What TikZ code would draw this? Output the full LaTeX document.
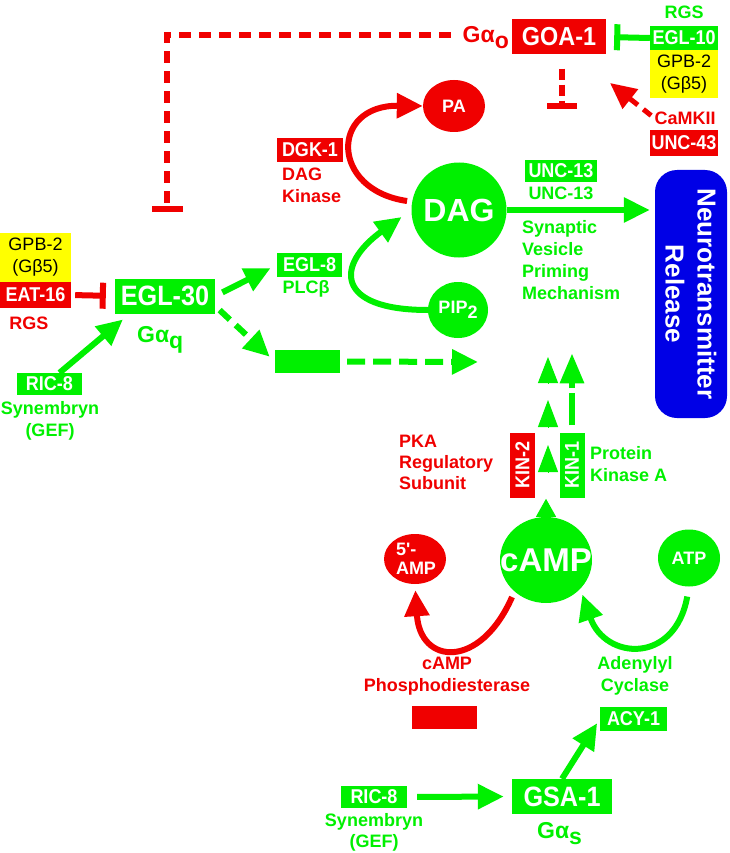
\documentclass[tikz,border=0pt]{standalone}
\usepackage{fontspec}
\setmainfont{Liberation Sans}
\newfontfamily\boxfont{Liberation Sans}[FakeStretch=0.9]
\usetikzlibrary{arrows.meta,shapes.geometric}
\definecolor{grn}{RGB}{0,240,0}
\definecolor{rd}{RGB}{240,0,0}
\definecolor{blu}{RGB}{0,0,230}
\definecolor{ylw}{RGB}{255,255,0}

\begin{document}
\begin{tikzpicture}[x=1pt, y=-1pt,
        lbl/.style={font=\bfseries\fontsize{18}{22}\selectfont, inner sep=0pt},
        gtxt/.style={lbl, text=grn},
        rtxt/.style={lbl, text=rd},
        galpha/.style={inner sep=0pt, anchor=base west, font=\bfseries\fontsize{23}{23}\selectfont},
        gbox/.style={fill=grn, text=white, inner sep=0pt, minimum width=66pt, minimum height=24pt,
            font=\boxfont\bfseries\fontsize{20}{20}\selectfont},
        rbox/.style={gbox, fill=rd},
        bigbox/.style={minimum width=100pt, minimum height=35pt, font=\boxfont\bfseries\fontsize{28}{28}\selectfont},
        ybox/.style={fill=ylw, text=black, inner sep=0pt, minimum width=68pt, minimum height=48pt,
            align=center, font=\fontsize{18}{22}\selectfont},
        blob/.style={ellipse, inner sep=0pt, text=white, font=\bfseries\fontsize{18}{20}\selectfont},
        arr/.style={line width=6pt, -{Triangle[length=26pt,width=24pt]}},
        darr/.style={arr, dash pattern=on 14pt off 8pt},
        tri/.style={grn, line width=1pt, -{Triangle[length=#1,width=20pt]}},
        inh/.style={line width=6pt, -{Bar[width=#1]}}
    ]
            \useasboundingbox (0,0) rectangle (729,853);

            \node[rbox, bigbox, minimum width=94pt, font=\boxfont\bfseries\fontsize{26}{26}\selectfont] (goa) at (559,37) {GOA-1};
            \node[galpha, text=rd, anchor=base east] (goalbl) at (509,43) {Gα\raisebox{-6pt}{o}};
            \node[gtxt] (rgstop) at (684,12) {RGS};
            \node[gbox, minimum width=68pt] (egl10) at (684,38) {EGL-10};
            \node[ybox] (gpbtop) at (684,74) {GPB-2\\(Gβ5)};
            \node[rtxt] (camk) at (685,118) {CaMKII};
            \node[rbox, minimum width=68pt, minimum height=26pt] (unc43) at (684,143) {UNC-43};
            \coordinate (camkend) at (610,83);

            \node[blob, fill=rd, minimum width=62pt, minimum height=52pt] (pa) at (454,106) {\makebox[0pt]{PA}};
            \node[rbox] (dgk) at (310,150) {DGK-1};
            \node[rtxt, anchor=west, align=left] (dgklbl) at (282,185) {DAG\\Kinase};
            \node[blob, fill=grn, minimum size=95pt, font=\bfseries\fontsize{32}{32}\selectfont] (dag) at (459,210) {\makebox[0pt]{DAG}};
            \node[blob, fill=grn, minimum width=60pt, minimum height=56pt] (pip) at (458,310) {\makebox[0pt]{PIP\raisebox{-5pt}{2}}};
            \node[gbox, minimum width=72pt, minimum height=22pt] (unc13) at (561,171) {UNC-13};
            \node[gtxt] (unc13lbl) at (561,193) {UNC-13};
            \node[gtxt, anchor=west, align=left] (svpm) at (522,260) {Synaptic\\Vesicle\\Priming\\Mechanism};
            \node[fill=blu, text=white, rounded corners=22pt, rotate=-90, minimum width=248pt, minimum height=72pt,
                align=center, font=\bfseries\fontsize{26}{32}\selectfont] (ntr) at (691,294) {Neurotransmitter\\Release};

            \node[ybox, minimum width=71pt, minimum height=49pt] (gpbleft) at (35.5,257.5) {GPB-2\\(Gβ5)};
            \node[rbox, minimum width=71pt, minimum height=26pt] (eat16) at (35.5,295) {EAT-16};
            \node[rtxt] (rgsleft) at (29,323) {RGS};
            \node[gbox, bigbox] (egl30) at (165,296) {EGL-30};
            \node[galpha, text=grn] (gq) at (137,342) {Gα\raisebox{-6pt}{q}};
            \node[gbox, minimum width=65pt] (egl8) at (309.5,265) {EGL-8};
            \node[gtxt] (plcb) at (306,289) {PLCβ};
            \node[fill=grn, inner sep=0pt, minimum width=65pt, minimum height=23pt] (gqnext) at (307.5,361.5) {};
            \coordinate (gqend) at (478,362);
            \node[gbox, minimum width=65pt, minimum height=22pt] (ric8a) at (49.5,384) {RIC-8};
            \node[gtxt, align=center] (ric8alb) at (50,421) {Synembryn\\(GEF)};

            \node[rbox, rotate=90, minimum width=65pt, minimum height=25pt] (kin2) at (522.5,465) {KIN-2};
            \node[gbox, rotate=90, minimum width=65pt, minimum height=25pt] (kin1) at (572,465) {KIN-1};
            \node[rtxt, anchor=west, align=left, font=\bfseries\fontsize{18}{21}\selectfont] (pkar) at (399,462) {PKA\\Regulatory\\Subunit};
            \node[gtxt, anchor=west, align=left] (pkac) at (590,464) {Protein\\Kinase A};
            \coordinate (k1) at (548,472);
            \coordinate (k2) at (548,427);
            \coordinate (k3) at (548,383);

            \node[blob, fill=grn, minimum width=92pt, minimum height=86pt, font=\bfseries\fontsize{33}{33}\selectfont] (camp) at (546,560) {\makebox[0pt]{cAMP}};
            \node[blob, fill=rd, minimum width=62pt, minimum height=50pt, text width=38pt, align=left,
                font=\bfseries\fontsize{18}{19}\selectfont] (amp) at (415,559) {5\textquotesingle-\\AMP};
            \node[blob, fill=grn, minimum width=62pt, minimum height=57pt] (atp) at (689,558) {\makebox[0pt]{ATP}};
            \node[rtxt, align=center] (pdelbl) at (447,676) {cAMP\\Phosphodiesterase};
            \node[fill=rd, inner sep=0pt, minimum width=65pt, minimum height=23pt] (pde) at (444.5,717.5) {};
            \node[gtxt, align=center] (aclbl) at (635,676) {Adenylyl\\Cyclase};
            \node[gbox, minimum width=67pt] (acy) at (633.5,719) {ACY-1};
            \node[gbox, bigbox] (gsa) at (562,796.5) {GSA-1};
            \node[galpha, text=grn] (gs) at (537,838) {Gα\raisebox{-6pt}{s}};
            \node[gbox, minimum height=22pt] (ric8b) at (374,797) {RIC-8};
            \node[gtxt, align=center, font=\bfseries\fontsize{18}{21}\selectfont] (ric8blb) at (374,832) {Synembryn\\(GEF)};

            \coordinate (bend) at (167,35);
            \coordinate (qhit) at (167,212);
            \draw[inh=31pt, rd, dash pattern=on 12pt off 8pt, shorten <=12pt] (goalbl.west |- bend) -- (bend) -- (qhit);
            \draw[inh=30pt, rd, dash pattern=on 11pt off 5pt] ([shift={(3pt,-14pt)}]goa.south) -- ++(0,40);
            \draw[inh=26pt, grn, shorten >=8pt] (egl10.west) -- (goa.east);
            \draw[darr, rd, line width=5pt, dash pattern=on 10pt off 7pt, shorten <=4pt] (camk.west) -- (camkend);
            \draw[inh=26pt, rd, shorten <=4pt, shorten >=9pt] (eat16.east) -- (egl30.west);

            \draw[arr, rd, shorten <=5pt] (dag.170) .. controls (330,190) and (330,105) .. (pa.west);
            \draw[arr, grn, shorten >=12pt] (pip.west) .. controls (335,310) and (335,265) .. (dag.west);
            \draw[arr, grn, shorten >=5pt] (dag.east) -- (dag.east -| ntr.south);

            \draw[arr, grn, shorten <=8pt, shorten >=7pt] (egl30.east) -- (egl8.west);
            \draw[darr, grn, shorten <=6pt, shorten >=7pt] ([yshift=-10pt]egl30.east) -- (gqnext.west);
            \draw[darr, grn, dash pattern=on 18pt off 8pt, shorten <=7pt] (gqnext.east) -- (gqend);
            \draw[arr, grn, shorten >=9pt] ([xshift=10pt]ric8a.north) -- ([xshift=15pt]egl30.south west);

            \draw[tri=18pt] (camp.north) -- ++(0,-18);
            \draw[tri=27pt] (k1) -- ++(0,-27);
            \draw[tri=27pt] (k2) -- ++(0,-27);
            \draw[tri=26pt] (k3) -- ++(0,-26);
            \draw[darr, grn, dash pattern=on 32pt off 5pt, -{Triangle[length=30pt,width=23pt]}] ([yshift=7pt]kin1.east) -- ++(0,-72);

            \draw[arr, rd, shorten <=6pt, shorten >=6pt] (camp.-135) .. controls (480,670) and (420,665) .. (amp.south);
            \draw[arr, grn, shorten <=10pt, shorten >=6pt] (atp.south) .. controls (675,665) and (605,660) .. (camp.-40);
            \draw[arr, grn, shorten >=5pt] (gsa.north) -- (acy.west);
            \draw[arr, grn, shorten <=10pt, shorten >=8pt] (ric8b.east) -- (gsa.west);
        \end{tikzpicture}
\end{document}
